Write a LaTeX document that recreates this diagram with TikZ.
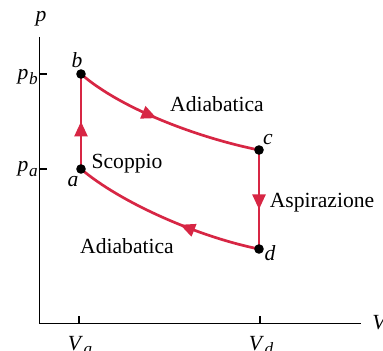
\documentclass[tikz,border=0pt]{standalone}
\usepackage{fontspec}
\setmainfont{Liberation Serif}
\usetikzlibrary{arrows.meta,decorations.markings,backgrounds}
\definecolor{cred}{RGB}{215,38,68}
\tikzset{
  axis/.style={line width=0.7pt,black},
  proc/.style={cred,line width=1.35pt},
  pt/.style={circle,fill=black,inner sep=0pt,minimum size=4.8pt},
  lbl/.style={font=\fontsize{10.8}{12}\selectfont,inner sep=0pt,anchor=base},
  midarrow/.style={postaction={decorate},decoration={markings,mark=at position #1 with {\arrow{Triangle[length=7.5pt,width=6.5pt]}}}},
}
\newcommand{\itsub}[2]{\textit{#1}\kern0.3pt\raisebox{-2.4pt}{\fontsize{8.6}{9}\selectfont\textit{#2}}}
\begin{document}
\begin{tikzpicture}[x=0.5pt,y=-0.5pt]
\useasboundingbox (0,0) rectangle (383,351);
% axes
\coordinate (O) at (39.5,323.5);
\coordinate (ytop) at (39.5,37);
\coordinate (xend) at (361,323.5);
\draw[axis] (ytop) -- (O) -- (xend);
\coordinate (tb0) at (39.5,74); \coordinate (tb1) at (47,74);
\coordinate (ta0) at (39.5,169); \coordinate (ta1) at (47,169);
\coordinate (tva0) at (79,323.5); \coordinate (tva1) at (79,316);
\coordinate (tvd0) at (260,323.5); \coordinate (tvd1) at (260,316);
\draw[axis] (tb0) -- (tb1);
\draw[axis] (ta0) -- (ta1);
\draw[axis] (tva0) -- (tva1);
\draw[axis] (tvd0) -- (tvd1);
% axis labels
\node[lbl] (lp) at (41,22) {\textit{p}};
\node[lbl,anchor=base east] (lpb) at (38,80) {\itsub{p}{b}};
\node[lbl,anchor=base east] (lpa) at (38,172) {\itsub{p}{a}};
\node[lbl] (lva) at (80,350) {\itsub{V}{a}};
\node[lbl] (lvd) at (261,350) {\itsub{V}{d}};
\node[lbl,anchor=base west] (lv) at (372,329) {\textit{V}};
% state points
\node[pt] (b) at (81,74) {};
\node[pt] (a) at (81,169) {};
\node[pt] (c) at (259,150) {};
\node[pt] (d) at (259,249) {};
\begin{scope}[on background layer]
\draw[proc,midarrow=0.5] (a.center) -- (b.center);
\draw[proc,midarrow=0.45] (b.center) .. controls (121,109) and (199,138) .. (c.center);
\draw[proc,midarrow=0.6] (c.center) -- (d.center);
\draw[proc,midarrow=0.42] (d.center) .. controls (199,237) and (121,203) .. (a.center);
\end{scope}
% point labels
\node[lbl] (lb) at (77,68) {\textit{b}};
\node[lbl] (la) at (73,187) {\textit{a}};
\node[lbl] (lc) at (268,145) {\textit{c}};
\node[lbl] (ld) at (270,260) {\textit{d}};
% process labels
\node[lbl] (t1) at (217,112) {Adiabatica};
\node[lbl] (t2) at (127,169) {Scoppio};
\node[lbl] (t3) at (322,207) {Aspirazione};
\node[lbl] (t4) at (127,253) {Adiabatica};
\end{tikzpicture}
\end{document}
